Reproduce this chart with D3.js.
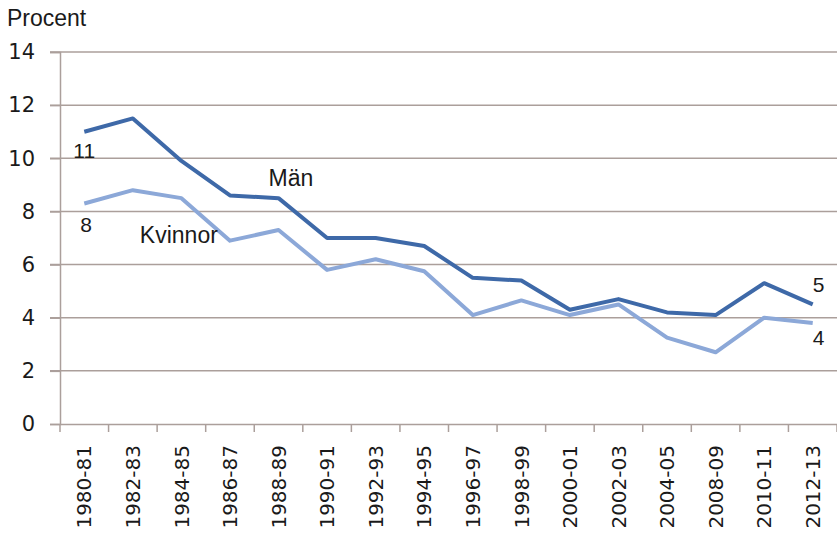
<!DOCTYPE html>
<html>
<head>
<meta charset="utf-8">
<script src="https://cdn.jsdelivr.net/npm/d3@7"></script>
<style>
  body { margin: 0; background: #fff; }
  text { font-family: "Liberation Sans", Arial, sans-serif; }
</style>
</head>
<body>
<div id="plot"></div>
<script>
// Data
var periods = ["1980-81", "1982-83", "1984-85", "1986-87", "1988-89", "1990-91", "1992-93", "1994-95",
               "1996-97", "1998-99", "2000-01", "2002-03", "2004-05", "2008-09", "2010-11", "2012-13"];
var man     = [11.0, 11.5, 9.9, 8.6, 8.5, 7.0, 7.0, 6.7, 5.5, 5.4, 4.3, 4.7, 4.2, 4.1, 5.3, 4.5];
var kvinnor = [8.3, 8.8, 8.5, 6.9, 7.3, 5.8, 6.2, 5.75, 4.1, 4.65, 4.1, 4.5, 3.25, 2.7, 4.0, 3.8];
var yTicks  = [0, 2, 4, 6, 8, 10, 12, 14];

var W = 837, H = 534;
var margin = {top: 52, right: 0, bottom: 110, left: 60},
    width = W - margin.left - margin.right,
    height = H - margin.top - margin.bottom;

var svg = d3.select("#plot")
  .append("svg")
    .attr("width", W)
    .attr("height", H);

var g = svg.append("g")
    .attr("transform", `translate(${margin.left},${margin.top})`);

var x = d3.scaleBand()
  .domain(periods)
  .range([0, width]);

var y = d3.scaleLinear()
  .domain([0, 14])
  .range([height, 0]);

var gridColor = "#ab9f9b";
var tickFont = "'DejaVu Sans', sans-serif";

// Gridlines
g.selectAll(".grid")
  .data(yTicks.filter(d => d > 0))
  .enter().append("line")
    .attr("x1", -10).attr("x2", width)
    .attr("y1", d => y(d)).attr("y2", d => y(d))
    .attr("stroke", gridColor)
    .attr("stroke-width", 1.5);

// Y axis
var yAxis = g.append("g")
  .call(d3.axisLeft(y).tickValues(yTicks).tickSize(10).tickPadding(15));
yAxis.select(".domain").attr("stroke", gridColor).attr("stroke-width", 1.5);
yAxis.selectAll(".tick line").attr("stroke", gridColor).attr("stroke-width", 1.5);
yAxis.selectAll(".tick text")
  .attr("font-size", 21)
  .attr("fill", "#1a1a1a")
  .style("font-family", tickFont);

// X axis
var xAxis = g.append("g")
  .attr("transform", `translate(0,${height})`)
  .call(d3.axisBottom(x).tickSize(0).tickPadding(0));
xAxis.select(".domain").attr("stroke", gridColor).attr("stroke-width", 1.5);
xAxis.selectAll(".tick text")
  .attr("transform", "rotate(-90)")
  .attr("text-anchor", "end")
  .attr("x", -21)
  .attr("y", 0)
  .attr("dy", "0.36em")
  .attr("font-size", 20)
  .attr("fill", "#1a1a1a")
  .style("font-family", tickFont);

// category boundary ticks
g.selectAll(".xtick")
  .data(d3.range(periods.length + 1))
  .enter().append("line")
    .attr("x1", i => i * x.step()).attr("x2", i => i * x.step())
    .attr("y1", height).attr("y2", height + 8)
    .attr("stroke", gridColor)
    .attr("stroke-width", 1.5);

// Lines
var line = d3.line()
  .x((d, i) => x(periods[i]) + x.bandwidth() / 2)
  .y(d => y(d));

g.append("path")
  .datum(kvinnor)
  .attr("fill", "none")
  .attr("stroke", "#8ca8d8")
  .attr("stroke-width", 4)
  .attr("stroke-linejoin", "round")
  .attr("d", line);

g.append("path")
  .datum(man)
  .attr("fill", "none")
  .attr("stroke", "#3e69a8")
  .attr("stroke-width", 4)
  .attr("stroke-linejoin", "round")
  .attr("d", line);

// Labels
svg.append("text")
  .attr("x", 7).attr("y", 26)
  .attr("font-size", 23)
  .attr("fill", "#1a1a1a")
  .text("Procent");

var labels = [
  {t: "11", i: 0, v: man[0], dx: -11, dy: 26},
  {t: "8", i: 0, v: kvinnor[0], dx: -4, dy: 29},
  {t: "Män", i: 4, v: man[4], dx: -10, dy: -12},
  {t: "Kvinnor", i: 1, v: kvinnor[1], dx: 7, dy: 53},
  {t: "5", i: 15, v: man[15], dx: 0, dy: -12},
  {t: "4", i: 15, v: kvinnor[15], dx: 0, dy: 22}
];
g.selectAll(".lbl")
  .data(labels)
  .enter().append("text")
    .attr("x", d => x(periods[d.i]) + x.bandwidth() / 2 + d.dx)
    .attr("y", d => y(d.v) + d.dy)
    .attr("font-size", d => d.t.length > 2 ? 23 : 21)
    .attr("fill", "#1a1a1a")
    .text(d => d.t);
</script>
</body>
</html>
